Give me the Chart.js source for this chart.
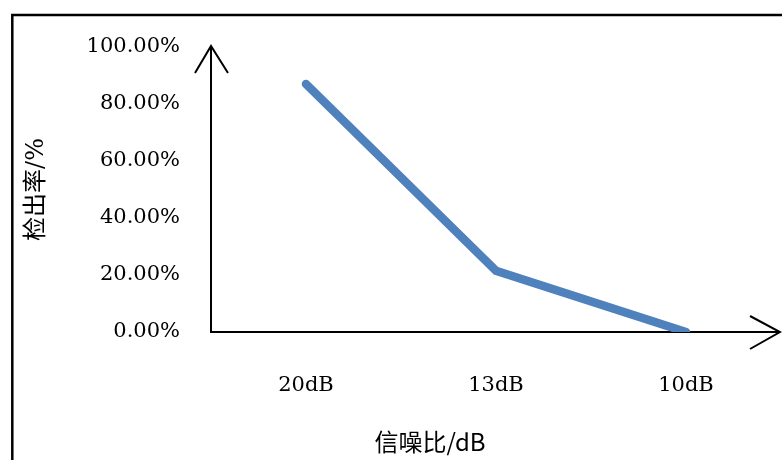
<!DOCTYPE html>
<html>
<head>
<meta charset="utf-8">
<script src="https://cdn.jsdelivr.net/npm/chart.js@4.4.1/dist/chart.umd.min.js"></script>
<style>
  html, body { margin: 0; padding: 0; background: #ffffff; }
  #wrap { width: 782px; height: 460px; position: relative; }
</style>
</head>
<body>
<div id="wrap"><canvas id="c" width="782" height="460"></canvas></div>
<script>
// Detection rate at each signal-to-noise ratio
const snrLabels = ['20dB', '13dB', '10dB'];
const detectionRate = [87, 21.5, 0];
const yTicks = [0, 20, 40, 60, 80, 100];
const yTitle = '检出率/%';
const xTitle = '信噪比/dB';

const serif = '"DejaVu Serif", "Noto Sans CJK SC", serif';
const sans = '"Noto Sans CJK SC", "DejaVu Sans", sans-serif';

// Outer frame, axis lines with open arrowheads, and the x-axis caption
const decor = {
  id: 'decor',
  beforeDatasetsDraw(chart) {
    const ctx = chart.ctx;
    const xs = chart.scales.x, ys = chart.scales.y;
    const ox = xs.left, oy = ys.getPixelForValue(0);
    const topY = ys.top - 1, rightX = xs.right - 1;
    ctx.save();
    ctx.strokeStyle = '#000';
    ctx.lineWidth = 2.5;
    ctx.strokeRect(12.3, 15, 900, 600);

    ctx.lineWidth = 2;
    ctx.lineCap = 'butt';
    ctx.beginPath();
    ctx.moveTo(ox, oy);
    ctx.lineTo(ox, topY);
    ctx.moveTo(ox - 1, oy);
    ctx.lineTo(rightX, oy);
    ctx.stroke();

    ctx.beginPath();
    ctx.moveTo(ox - 16, topY + 27);
    ctx.lineTo(ox, topY);
    ctx.lineTo(ox + 17, topY + 27);
    ctx.moveTo(rightX - 30, oy - 16);
    ctx.lineTo(rightX, oy);
    ctx.lineTo(rightX - 30, oy + 17);
    ctx.stroke();
    ctx.restore();
  },
  afterDraw(chart) {
    const ctx = chart.ctx;
    ctx.save();
    ctx.fillStyle = '#000';
    ctx.font = '24px ' + sans;
    ctx.textAlign = 'center';
    ctx.textBaseline = 'middle';
    ctx.fillText(xTitle, 430, 442);
    ctx.restore();
  }
};

new Chart(document.getElementById('c'), {
  type: 'line',
  data: {
    labels: snrLabels,
    datasets: [{
      data: detectionRate,
      borderColor: '#4F81BD',
      borderWidth: 8.5,
      borderCapStyle: 'round',
      borderJoinStyle: 'miter',
      pointRadius: 0,
      pointHoverRadius: 0,
      tension: 0,
      fill: false,
      clip: { left: false, top: false, right: false, bottom: 0 }
    }]
  },
  options: {
    responsive: false,
    animation: false,
    events: [],
    layout: { padding: { top: 47, right: 1, left: 0, bottom: 0 } },
    plugins: {
      legend: { display: false },
      tooltip: { enabled: false }
    },
    scales: {
      x: {
        type: 'category',
        offset: true,
        grid: { display: false, drawTicks: false },
        border: { display: false },
        ticks: {
          color: '#000',
          font: { family: serif, size: 21 },
          padding: 41,
          maxRotation: 0
        },
        afterFit(s) { s.height = 128; }
      },
      y: {
        min: 0,
        max: 100,
        grid: { display: false, drawTicks: false },
        border: { display: false },
        afterBuildTicks(s) { s.ticks = yTicks.map(v => ({ value: v })); },
        ticks: {
          color: '#000',
          font: { family: serif, size: 21 },
          padding: 31,
          callback: v => v.toFixed(2) + '%'
        },
        title: {
          display: true,
          text: yTitle,
          color: '#000',
          font: { family: serif, size: 24 },
          padding: { top: 22, bottom: 0 }
        },
        afterFit(s) { s.width = 211; }
      }
    }
  },
  plugins: [decor]
});
</script>
</body>
</html>
